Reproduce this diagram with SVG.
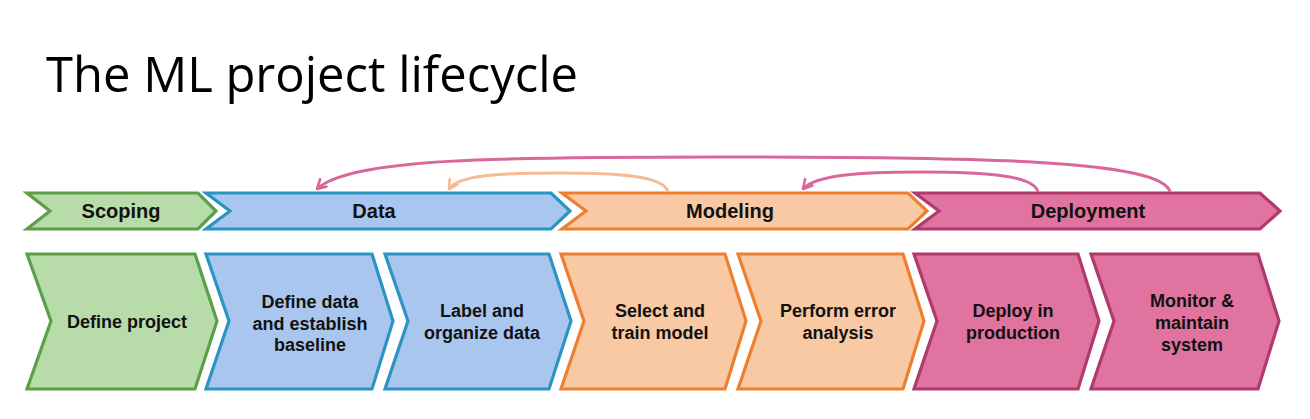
<svg xmlns="http://www.w3.org/2000/svg" width="1310" height="419" viewBox="0 0 1310 419">
<style>
.t{font-family:"Liberation Sans",Arial,sans-serif;font-weight:bold;fill:#111;text-anchor:middle}
.hd{font-size:20px}
.lb{font-size:18px}
.g{fill:#b7dcaa;stroke:#5b9f48;stroke-width:3.2}
.b{fill:#a9c6ef;stroke:#2a95c3;stroke-width:3.2}
.o{fill:#f9c9a3;stroke:#ed7f33;stroke-width:3.2}
.p{fill:#e0739f;stroke:#b03a6d;stroke-width:3.2}
.ap{fill:none;stroke:#d8679b;stroke-width:3}
.ao{fill:none;stroke:#f6ba94;stroke-width:3}
</style>
<defs>
<marker id="mp" viewBox="0 0 12 12" refX="10" refY="6" markerWidth="12" markerHeight="12" markerUnits="userSpaceOnUse" orient="auto">
<path d="M1,1 L10,6 L1,11" fill="none" stroke="#d8679b" stroke-width="2.6" stroke-linecap="round" stroke-linejoin="round"/>
</marker>
<marker id="mo" viewBox="0 0 12 12" refX="10" refY="6" markerWidth="12" markerHeight="12" markerUnits="userSpaceOnUse" orient="auto">
<path d="M1,1 L10,6 L1,11" fill="none" stroke="#f6ba94" stroke-width="2.6" stroke-linecap="round" stroke-linejoin="round"/>
</marker>
</defs>
<rect width="1310" height="419" fill="#ffffff"/>
<text x="46" y="92" font-family="'Open Sans','Liberation Sans',sans-serif" font-size="50" fill="#000" textLength="532" lengthAdjust="spacingAndGlyphs">The ML project lifecycle</text>

<g id="phase-scoping">
<polygon class="g" points="27,193 198,193 216,211 198,229 27,229 50,211"/>
<text class="t hd" x="121" y="218">Scoping</text>
</g>
<g id="phase-data">
<polygon class="b" points="206,193 551,193 570,211 551,229 206,229 230,211"/>
<text class="t hd" x="374" y="218">Data</text>
</g>
<g id="phase-modeling">
<polygon class="o" points="562,193 908,193 927,211 908,229 562,229 586,211"/>
<text class="t hd" x="730" y="218">Modeling</text>
</g>
<g id="phase-deployment">
<polygon class="p" points="915,193 1260,193 1280,211 1260,229 915,229 939,211"/>
<text class="t hd" x="1088" y="218">Deployment</text>
</g>

<g id="step-define-project">
<polygon class="g" points="27,254 195,254 217,321 195,389 27,389 51,321"/>
<text class="t lb" x="127" y="328">Define project</text>
</g>
<g id="step-define-data">
<polygon class="b" points="206,254 372,254 393,321 372,389 206,389 229,321"/>
<text class="t lb" x="310" y="308">Define data</text>
<text class="t lb" x="310" y="330">and establish</text>
<text class="t lb" x="310" y="351">baseline</text>
</g>
<g id="step-label-data">
<polygon class="b" points="385,254 549,254 571,321 549,389 385,389 408,321"/>
<text class="t lb" x="482" y="317">Label and</text>
<text class="t lb" x="482" y="339">organize data</text>
</g>
<g id="step-select-train">
<polygon class="o" points="561,254 725,254 746,321 725,389 561,389 584,321"/>
<text class="t lb" x="660" y="317">Select and</text>
<text class="t lb" x="660" y="339">train model</text>
</g>
<g id="step-error-analysis">
<polygon class="o" points="738,254 903,254 924,321 903,389 738,389 761,321"/>
<text class="t lb" x="838" y="317">Perform error</text>
<text class="t lb" x="838" y="339">analysis</text>
</g>
<g id="step-deploy">
<polygon class="p" points="914,254 1078,254 1099,321 1078,389 914,389 937,321"/>
<text class="t lb" x="1013" y="317">Deploy in</text>
<text class="t lb" x="1013" y="339">production</text>
</g>
<g id="step-monitor">
<polygon class="p" points="1091,254 1258,254 1279,321 1258,389 1091,389 1114,321"/>
<text class="t lb" x="1192" y="307">Monitor &amp;</text>
<text class="t lb" x="1192" y="329">maintain</text>
<text class="t lb" x="1192" y="351">system</text>
</g>

<g id="connectors">
<path class="ap" d="M1170,192 C1162,160 980,157 720,157 C500,157 350,158 317,189" marker-end="url(#mp)"/>
<path class="ao" d="M668,192 C664,176 620,173 560,173 C500,173 458,175 449,189" marker-end="url(#mo)"/>
<path class="ap" d="M1038,192 C1034,176 990,172 920,172 C860,172 815,175 803,189" marker-end="url(#mp)"/>
</g>
</svg>
